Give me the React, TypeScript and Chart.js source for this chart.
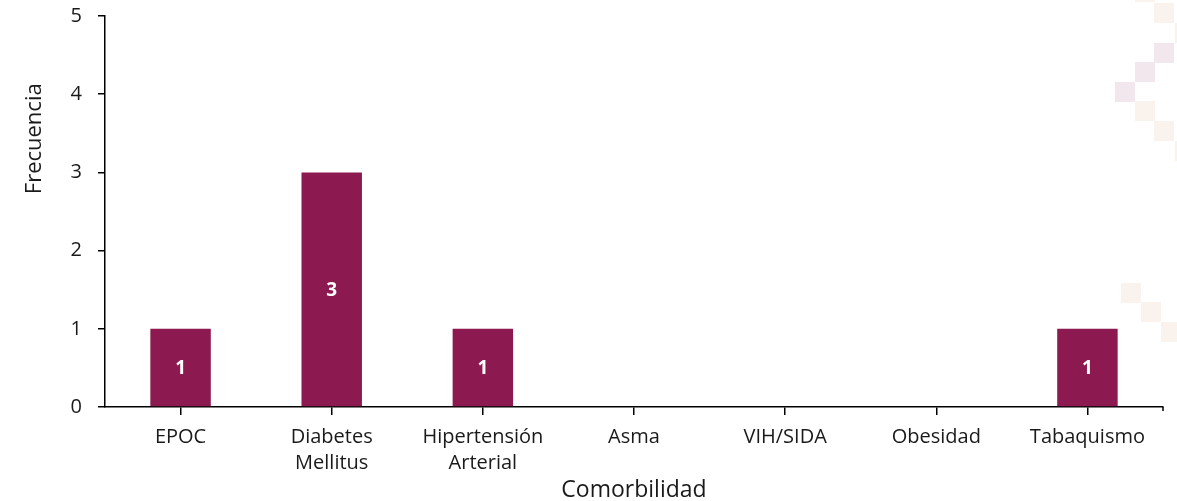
import React, { useEffect, useRef } from "react";
import { Chart, registerables } from "chart.js";

Chart.register(...registerables);

const categories: (string | string[])[] = [
  "EPOC",
  ["Diabetes", "Mellitus"],
  ["Hipertensión", "Arterial"],
  "Asma",
  "VIH/SIDA",
  "Obesidad",
  "Tabaquismo",
];
const frequencies: number[] = [1, 3, 1, 0, 0, 0, 1];
const yTitle = "Frecuencia";
const xTitle = "Comorbilidad";

const BAR_COLOR = "#8C1A50";
const TEXT = "#1a1a1a";
const FONT = "'Open Sans', 'Liberation Sans', sans-serif";

// faint decorative squares in the background (right side)
const decoSquares: { x: number; y: number; s: number; c: string }[] = [
  { x: 1135, y: -18, s: 20, c: "#faf2ec" },
  { x: 1154, y: 3, s: 20, c: "#faf2ec" },
  { x: 1175, y: 23, s: 20, c: "#faf2ec" },
  { x: 1154, y: 43, s: 20, c: "#f2e7ec" },
  { x: 1135, y: 62, s: 20, c: "#f2e7ec" },
  { x: 1115, y: 82, s: 20, c: "#f2e7ec" },
  { x: 1135, y: 101, s: 20, c: "#faf2ec" },
  { x: 1154, y: 121, s: 20, c: "#faf2ec" },
  { x: 1175, y: 141, s: 20, c: "#faf2ec" },
  { x: 1121, y: 283, s: 20, c: "#faf2ec" },
  { x: 1141, y: 302, s: 20, c: "#faf2ec" },
  { x: 1161, y: 322, s: 20, c: "#faf2ec" },
];

const decoPlugin = {
  id: "deco",
  beforeDraw(chart: any) {
    const ctx = chart.ctx;
    ctx.save();
    for (const q of decoSquares) {
      ctx.fillStyle = q.c;
      ctx.fillRect(q.x, q.y, q.s, q.s);
    }
    ctx.restore();
  },
  afterDraw(chart: any) {
    const ctx = chart.ctx;
    const { right, bottom, top } = chart.chartArea;
    ctx.save();
    // small end tick on the category axis
    ctx.strokeStyle = "#000";
    ctx.lineWidth = 1.5;
    ctx.beginPath();
    ctx.moveTo(right, bottom);
    ctx.lineTo(right, bottom + 4);
    ctx.stroke();
    // y axis title placed as in the reference
    ctx.fillStyle = TEXT;
    ctx.font = `22px ${FONT}`;
    ctx.textAlign = "center";
    ctx.textBaseline = "middle";
    ctx.translate(35, top + (bottom - top) * 0.314);
    ctx.rotate(-Math.PI / 2);
    ctx.fillText(yTitle, 0, 0);
    ctx.restore();
  },
};

const labelPlugin = {
  id: "barLabels",
  afterDatasetsDraw(chart: any) {
    const ctx = chart.ctx;
    const meta = chart.getDatasetMeta(0);
    const data = chart.data.datasets[0].data as number[];
    ctx.save();
    ctx.fillStyle = "#ffffff";
    ctx.font = `bold 19px ${FONT}`;
    ctx.textAlign = "center";
    ctx.textBaseline = "middle";
    meta.data.forEach((bar: any, i: number) => {
      const v = data[i];
      if (!v) return;
      ctx.fillText(String(v), bar.x, (bar.y + bar.base) / 2 + 1);
    });
    ctx.restore();
  },
};

export default function App() {
  const ref = useRef<HTMLCanvasElement | null>(null);

  useEffect(() => {
    if (!ref.current) return;
    const chart = new Chart(ref.current, {
      type: "bar",
      data: {
        labels: categories,
        datasets: [
          {
            data: frequencies,
            backgroundColor: BAR_COLOR,
            categoryPercentage: 1,
            barPercentage: 0.4,
          },
        ],
      },
      plugins: [decoPlugin, labelPlugin],
      options: {
        responsive: false,
        animation: false,
        layout: { padding: { top: 16, right: 14, left: 0, bottom: 0 } },
        plugins: {
          legend: { display: false },
          tooltip: { enabled: false },
        },
        scales: {
          x: {
            offset: true,
            afterFit(scale: any) {
              scale.height = 94;
              scale.paddingLeft = 0;
              scale.paddingRight = 0;
            },
            grid: {
              offset: false,
              drawOnChartArea: false,
              drawTicks: true,
              tickLength: 8,
              color: "#000000",
              lineWidth: 1.5,
            },
            border: { color: "#000000", width: 1.5 },
            ticks: {
              color: TEXT,
              font: { family: FONT, size: 20, lineHeight: 1.3 },
              padding: 9,
              maxRotation: 0,
              autoSkip: false,
            },
            title: {
              display: true,
              text: xTitle,
              color: TEXT,
              font: { family: FONT, size: 23 },
              padding: { top: 2, bottom: -3 },
            },
          },
          y: {
            min: 0,
            max: 5,
            afterFit(scale: any) {
              scale.width = 105;
              scale.paddingTop = 0;
              scale.paddingBottom = 0;
            },
            ticks: {
              stepSize: 1,
              color: TEXT,
              font: { family: FONT, size: 20 },
              padding: 16,
            },
            grid: {
              drawOnChartArea: false,
              drawTicks: true,
              tickLength: 7,
              color: "#000000",
              lineWidth: 1.5,
            },
            border: { color: "#000000", width: 1.5 },
          },
        },
      },
    });
    return () => chart.destroy();
  }, []);

  return (
    <div style={{ position: "fixed", left: 0, top: 0, width: 1177, height: 501, background: "#fff" }}>
      <canvas ref={ref} width={1177} height={501} style={{ width: 1177, height: 501 }} />
    </div>
  );
}
